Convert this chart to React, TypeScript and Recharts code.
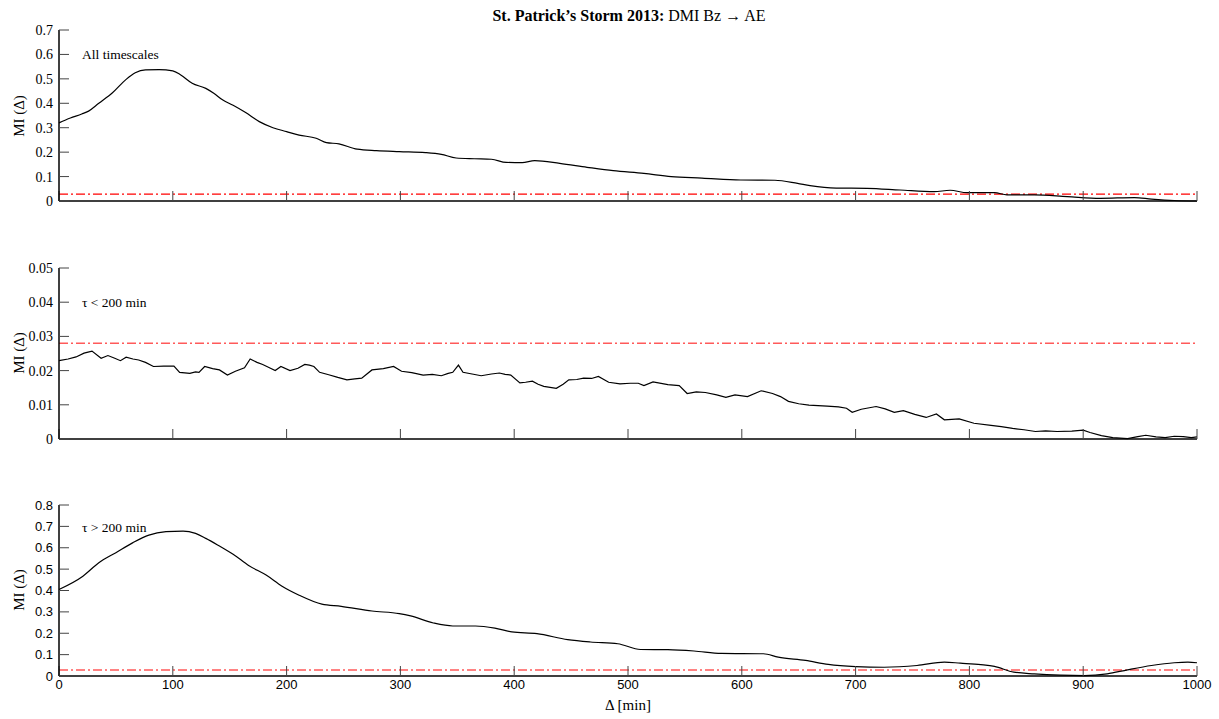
import { LineChart, Line, XAxis, YAxis, ReferenceLine } from "recharts";

const lagTicks = [0, 100, 200, 300, 400, 500, 600, 700, 800, 900, 1000];

// panel 1: all timescales
const allLag = [0, 10, 20, 26, 35, 47, 59, 67, 76, 88, 100, 107, 117, 129, 136, 144, 153, 164, 176, 188, 200, 211, 226, 235, 246, 262, 279, 299, 322, 336, 349, 365, 380, 393, 407, 418, 440, 464, 487, 514, 538, 565, 599, 629, 649, 660, 683, 710, 739, 769, 783, 798, 822, 833, 857, 886, 915, 945, 960, 980, 1000];
const allMI = [0.32, 0.34, 0.356, 0.368, 0.4, 0.443, 0.498, 0.525, 0.537, 0.538, 0.533, 0.516, 0.482, 0.461, 0.441, 0.413, 0.392, 0.362, 0.325, 0.3, 0.284, 0.27, 0.257, 0.239, 0.234, 0.212, 0.206, 0.202, 0.198, 0.191, 0.176, 0.173, 0.171, 0.158, 0.157, 0.165, 0.154, 0.138, 0.124, 0.113, 0.1, 0.094, 0.086, 0.085, 0.072, 0.063, 0.053, 0.052, 0.045, 0.038, 0.044, 0.034, 0.034, 0.025, 0.025, 0.018, 0.011, 0.014, 0.008, 0.002, 0];

// panel 2: tau < 200 min
const shortLag = [0, 8, 15, 22, 29, 37, 43, 49, 54, 59, 65, 70, 76, 83, 92, 101, 106, 115, 120, 123, 128, 135, 141, 148, 155, 163, 168, 174, 179, 184, 190, 195, 203, 210, 216, 220, 224, 229, 237, 245, 253, 260, 266, 275, 285, 294, 301, 310, 320, 328, 336, 342, 346, 351, 355, 363, 371, 380, 387, 392, 397, 405, 410, 416, 421, 426, 437, 443, 448, 455, 461, 468, 474, 483, 493, 502, 509, 514, 522, 535, 545, 552, 560, 568, 578, 586, 594, 605, 617, 627, 634, 641, 650, 659, 675, 685, 692, 697, 705, 718, 726, 734, 742, 752, 762, 771, 778, 791, 804, 819, 828, 838, 848, 858, 867, 877, 890, 900, 906, 916, 926, 939, 948, 955, 964, 972, 980, 988, 995, 1000];
const shortMI = [0.0229, 0.0234, 0.024, 0.0251, 0.0257, 0.0236, 0.0244, 0.0236, 0.0229, 0.0239, 0.0234, 0.0231, 0.0224, 0.0212, 0.0213, 0.0213, 0.0195, 0.0192, 0.0196, 0.0195, 0.0212, 0.0206, 0.0202, 0.0187, 0.0198, 0.0208, 0.0234, 0.0224, 0.0218, 0.021, 0.02, 0.0212, 0.02, 0.0207, 0.0218, 0.0216, 0.0212, 0.0195, 0.0188, 0.018, 0.0173, 0.0176, 0.0178, 0.0202, 0.0206, 0.0212, 0.0198, 0.0194, 0.0187, 0.0189, 0.0185, 0.0192, 0.0195, 0.0216, 0.0195, 0.019, 0.0185, 0.019, 0.0193, 0.0189, 0.0187, 0.0164, 0.0166, 0.0169, 0.016, 0.0154, 0.0148, 0.016, 0.0173, 0.0174, 0.0178, 0.0177, 0.0183, 0.0166, 0.0161, 0.0163, 0.0163, 0.0156, 0.0167, 0.0159, 0.0156, 0.0133, 0.0138, 0.0136, 0.0129, 0.0122, 0.0129, 0.0124, 0.0141, 0.0133, 0.0124, 0.011, 0.0103, 0.0099, 0.0096, 0.0094, 0.009, 0.0078, 0.0087, 0.0095, 0.0088, 0.0078, 0.0083, 0.0072, 0.0063, 0.0073, 0.0056, 0.0059, 0.0046, 0.004, 0.0036, 0.0031, 0.0027, 0.0022, 0.0024, 0.0022, 0.0023, 0.0026, 0.0019, 0.001, 0.0004, 0.0001, 0.0007, 0.0011, 0.0006, 0.0004, 0.0008, 0.0007, 0.0004, 0.0006];

// panel 3: tau > 200 min
const longLag = [0, 21, 35, 50, 65, 79, 94, 109, 120, 129, 141, 153, 167, 182, 196, 211, 231, 248, 275, 299, 309, 329, 346, 366, 383, 398, 420, 447, 467, 491, 511, 535, 558, 582, 619, 632, 656, 676, 700, 725, 754, 778, 792, 810, 822, 839, 857, 880, 901, 921, 939, 960, 980, 992, 1000];
const longMI = [0.405, 0.467, 0.53, 0.577, 0.624, 0.659, 0.675, 0.678, 0.667, 0.644, 0.608, 0.57, 0.516, 0.472, 0.42, 0.378, 0.336, 0.326, 0.304, 0.292, 0.281, 0.248, 0.234, 0.234, 0.224, 0.206, 0.198, 0.17, 0.159, 0.151, 0.124, 0.123, 0.117, 0.106, 0.104, 0.088, 0.073, 0.054, 0.044, 0.041, 0.049, 0.065, 0.06, 0.053, 0.045, 0.018, 0.01, 0.004, 0.002, 0.01, 0.029, 0.049, 0.062, 0.065, 0.062];

const allTicks = [0, 0.1, 0.2, 0.3, 0.4, 0.5, 0.6, 0.7];
const shortTicks = [0, 0.01, 0.02, 0.03, 0.04, 0.05];
const longTicks = [0, 0.1, 0.2, 0.3, 0.4, 0.5, 0.6, 0.7, 0.8];

// significance thresholds
const allSig = 0.028;
const shortSig = 0.028;
const longSig = 0.028;

const SERIF = "'Liberation Serif', 'DejaVu Serif', serif";
const SANS = "'Liberation Sans', Arial, sans-serif";
const blank = () => "";

type PanelProps = {
  top: number;
  lag: number[];
  mi: number[];
  yMax: number;
  yTicks: number[];
  yFont: string;
  yFontSize: number;
  smooth: boolean;
  sig: number;
  sigColor: string;
  showX: boolean;
};

function Panel({ top, lag, mi, yMax, yTicks, yFont, yFontSize, smooth, sig, sigColor, showX }: PanelProps) {
  const data = lag.map((l, i) => ({ lag: l, mi: mi[i] }));
  const frame = { stroke: "#000", strokeWidth: 1.5 };
  const tickLine = { stroke: "#444", strokeWidth: 1 };
  return (
    <div style={{ position: "absolute", left: 0, top }}>
      <LineChart width={1219} height={231} data={data} margin={{ top: 30, right: 22, bottom: 0, left: 0 }}>
        <XAxis
          xAxisId="b"
          dataKey="lag"
          type="number"
          domain={[0, 1000]}
          ticks={lagTicks}
          height={30}
          tickSize={-10}
          tickMargin={14}
          axisLine={frame}
          tickLine={tickLine}
          tick={{ fill: "#000", fontSize: 13, fontFamily: SANS }}
          tickFormatter={showX ? (v) => `${v}` : blank}
        />
        <XAxis
          xAxisId="t"
          orientation="top"
          dataKey="lag"
          type="number"
          domain={[0, 1000]}
          ticks={lagTicks}
          height={0}
          tickSize={-10}
          axisLine={frame}
          tickLine={tickLine}
          tickFormatter={blank}
        />
        <YAxis
          yAxisId="l"
          type="number"
          domain={[0, yMax]}
          ticks={yTicks}
          width={59}
          tickSize={-10}
          tickMargin={16}
          axisLine={frame}
          tickLine={tickLine}
          tick={{ fill: "#000", fontSize: yFontSize, fontFamily: yFont }}
          tickFormatter={(v) => `${v}`}
        />
        <YAxis
          yAxisId="r"
          orientation="right"
          type="number"
          domain={[0, yMax]}
          ticks={yTicks}
          width={0}
          tickSize={-10}
          axisLine={frame}
          tickLine={tickLine}
          tickFormatter={blank}
        />
        <ReferenceLine xAxisId="b" yAxisId="l" y={sig} stroke={sigColor} strokeWidth={1.3} strokeDasharray="9 3 2 3" />
        <Line
          xAxisId="b"
          yAxisId="l"
          type={smooth ? "monotone" : "linear"}
          dataKey="mi"
          stroke="#000"
          strokeWidth={1.2}
          dot={false}
          isAnimationActive={false}
        />
      </LineChart>
    </div>
  );
}

const yLabel = (top: number) => (
  <div
    style={{
      position: "absolute",
      left: 19,
      top,
      transform: "translate(-50%, -50%) rotate(-90deg)",
      fontFamily: SERIF,
      fontSize: 15,
      whiteSpace: "nowrap",
    }}
  >
    MI (Δ)
  </div>
);

const note = (top: number, text: string) => (
  <div style={{ position: "absolute", left: 82, top, fontFamily: SERIF, fontSize: 13.5, whiteSpace: "nowrap", lineHeight: "14px" }}>
    {text}
  </div>
);

export default function App() {
  return (
    <div style={{ position: "absolute", left: 0, top: 0, width: 1219, height: 719, background: "#fff" }}>
      <div
        style={{
          position: "absolute",
          left: 629,
          top: 16,
          transform: "translate(-50%, -50%)",
          fontFamily: SERIF,
          fontSize: 16,
          whiteSpace: "nowrap",
        }}
      >
        <b>St. Patrick’s Storm 2013:</b> DMI Bz → AE
      </div>

      <Panel top={0} lag={allLag} mi={allMI} yMax={0.7} yTicks={allTicks} yFont={SERIF} yFontSize={14} smooth sig={allSig} sigColor="#ff0000" showX={false} />
      <Panel top={238} lag={shortLag} mi={shortMI} yMax={0.05} yTicks={shortTicks} yFont={SERIF} yFontSize={14} smooth={false} sig={shortSig} sigColor="#ff5a5a" showX={false} />
      <Panel top={475} lag={longLag} mi={longMI} yMax={0.8} yTicks={longTicks} yFont={SANS} yFontSize={13} smooth sig={longSig} sigColor="#ff5a5a" showX />

      {yLabel(116)}
      {yLabel(353)}
      {yLabel(590)}

      {note(48, "All timescales")}
      {note(296, "τ < 200 min")}
      {note(521, "τ > 200 min")}

      <div
        style={{
          position: "absolute",
          left: 628,
          top: 705,
          transform: "translate(-50%, -50%)",
          fontFamily: SERIF,
          fontSize: 15,
          whiteSpace: "nowrap",
        }}
      >
        Δ [min]
      </div>
    </div>
  );
}
